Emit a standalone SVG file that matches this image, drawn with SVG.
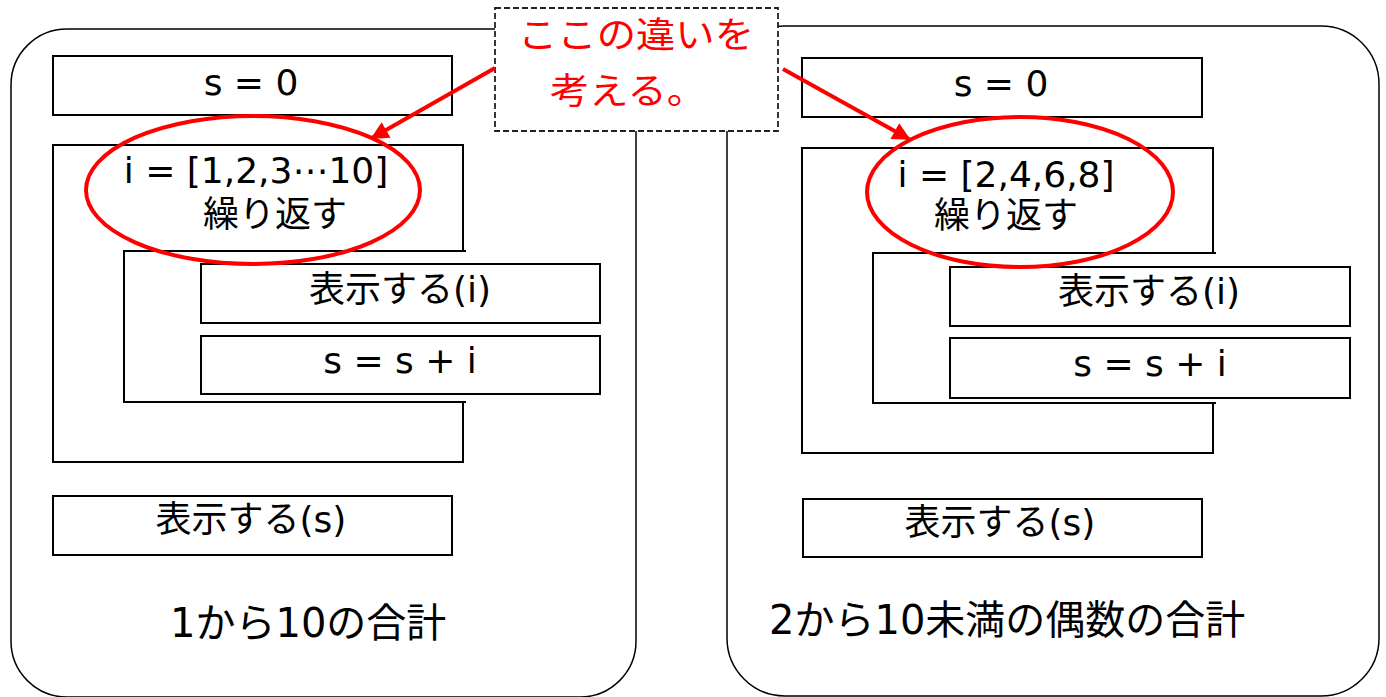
<svg xmlns="http://www.w3.org/2000/svg" width="1386" height="697" viewBox="0 0 1386 697">
<style>
.panel{fill:#fff;stroke:#000;stroke-width:1.5}
.box{fill:#fff;stroke:#000;stroke-width:2}
.loop{fill:#fff;stroke:#000;stroke-width:2}
.t{font-family:"DejaVu Sans","Noto Sans CJK JP",sans-serif;font-size:36px;fill:#000;text-anchor:middle}
.lbl{font-family:"DejaVu Sans","Noto Sans CJK JP",sans-serif;font-size:40px;fill:#000}
.ell{fill:none;stroke:#f00;stroke-width:4}
.arr{stroke:#f00;stroke-width:4;fill:none}
.call{fill:#fff;stroke:#222;stroke-width:1.8;stroke-dasharray:6 3}
.ct{font-family:"Noto Sans CJK JP",sans-serif;font-size:36px;fill:#f00}
</style>
<defs>
<marker id="ah" viewBox="0 0 10 10" refX="9" refY="5" markerWidth="5" markerHeight="4.5" orient="auto" markerUnits="strokeWidth">
<path d="M0,0 L10,5 L0,10 z" fill="#f00"/>
</marker>
</defs>

<g id="panel-left">
<rect class="panel" x="11" y="29" width="625" height="668" rx="56" ry="56"/>
</g>
<g id="panel-right">
<rect class="panel" x="727" y="26" width="652" height="670" rx="58" ry="58"/>
</g>

<g id="left-s0">
<rect class="box" x="53" y="56" width="399" height="59"/>
<text class="t" x="251" y="95">s = 0</text>
</g>
<g id="left-loop">
<path class="loop" d="M463,251 L463,145 L53,145 L53,462 L463,462 L463,402"/>
<path class="loop" d="M466,251 L124,251 L124,402 L466,402"/>
<text class="t" x="256" y="183">i = [1,2,3⋯10]</text>
<text class="t" x="275" y="227">繰り返す</text>
</g>
<g id="left-print-i">
<rect class="box" x="201" y="264" width="399" height="59"/>
<text class="t" x="400" y="302">表示する(i)</text>
</g>
<g id="left-add">
<rect class="box" x="201" y="336" width="399" height="58"/>
<text class="t" x="400" y="373">s = s + i</text>
</g>
<g id="left-print-s">
<rect class="box" x="53" y="496" width="399" height="59"/>
<text class="t" x="251" y="532">表示する(s)</text>
</g>
<g id="left-label">
<text class="lbl" x="170" y="637">1から10の合計</text>
</g>

<g id="right-s0">
<rect class="box" x="802" y="58" width="400" height="59"/>
<text class="t" x="1001" y="96">s = 0</text>
</g>
<g id="right-loop">
<path class="loop" d="M1213,253 L1213,148 L802,148 L802,453 L1213,453 L1213,403"/>
<path class="loop" d="M1216,253 L873,253 L873,403 L1216,403"/>
<text class="t" x="1006" y="187">i = [2,4,6,8]</text>
<text class="t" x="1006" y="228">繰り返す</text>
</g>
<g id="right-print-i">
<rect class="box" x="950" y="267" width="400" height="59"/>
<text class="t" x="1149" y="304">表示する(i)</text>
</g>
<g id="right-add">
<rect class="box" x="950" y="338" width="400" height="60"/>
<text class="t" x="1150" y="376">s = s + i</text>
</g>
<g id="right-print-s">
<rect class="box" x="803" y="499" width="399" height="58"/>
<text class="t" x="1000" y="535">表示する(s)</text>
</g>
<g id="right-label">
<text class="lbl" x="769" y="634">2から10未満の偶数の合計</text>
</g>

<g id="highlights">
<ellipse class="ell" cx="253" cy="190" rx="167" ry="74"/>
<ellipse class="ell" cx="1020" cy="192" rx="153" ry="75"/>
</g>

<g id="callout">
<rect class="call" x="495" y="8" width="283" height="123"/>
<text class="ct" x="518" y="48" textLength="236" lengthAdjust="spacingAndGlyphs">ここの違いを</text>
<text class="ct" x="550" y="104" textLength="156" lengthAdjust="spacingAndGlyphs">考える。</text>
</g>

<g id="connectors">
<line class="arr" x1="495" y1="68" x2="372" y2="138" marker-end="url(#ah)"/>
<line class="arr" x1="783" y1="69" x2="909" y2="139" marker-end="url(#ah)"/>
</g>
</svg>
